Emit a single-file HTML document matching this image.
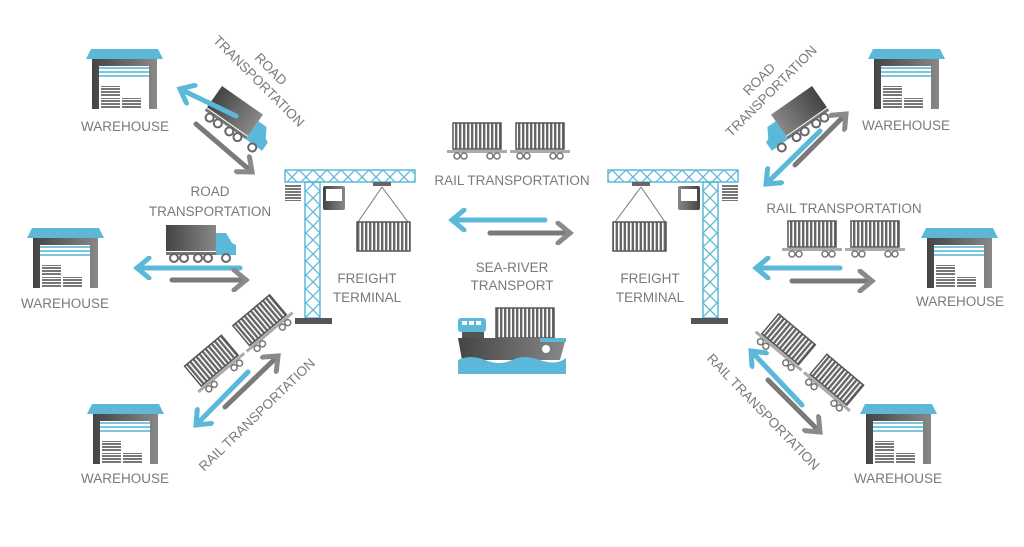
<!DOCTYPE html>
<html><head><meta charset="utf-8"><style>
html,body{margin:0;padding:0;background:#fff;width:1024px;height:547px;overflow:hidden}
svg{display:block}
text{font-family:"Liberation Sans",sans-serif;fill:#7a7a7a;font-size:13.5px}
</style></head><body>
<svg width="1024" height="547" viewBox="0 0 1024 547" xmlns="http://www.w3.org/2000/svg">
<defs>
<marker id="hb" markerUnits="userSpaceOnUse" markerWidth="24" markerHeight="24" viewBox="0 0 24 24" refX="18" refY="12" orient="auto"><path d="M6,2 L18,12 L6,22" fill="none" stroke="#5bb8d8" stroke-width="5" stroke-linecap="round"/></marker>
<marker id="hg" markerUnits="userSpaceOnUse" markerWidth="24" markerHeight="24" viewBox="0 0 24 24" refX="18" refY="12" orient="auto"><path d="M6,2 L18,12 L6,22" fill="none" stroke="#8a8a8a" stroke-width="5" stroke-linecap="round"/></marker>
<linearGradient id="dg" x1="0" x2="1"><stop offset="0" stop-color="#444"/><stop offset="1" stop-color="#888"/></linearGradient>
<pattern id="ribs" width="4" height="4" patternUnits="userSpaceOnUse"><rect width="4" height="4" fill="#fff"/><rect width="2.4" height="4" fill="#666"/></pattern>
<pattern id="hrib" width="4" height="3" patternUnits="userSpaceOnUse"><rect width="4" height="3" fill="#fff"/><rect width="4" height="2" fill="#777"/></pattern>
<g id="wh">
<polygon points="0,10 5,0 72,0 77,10" fill="#5bb8d8"/>
<rect x="6" y="10" width="65" height="50" fill="url(#dg)"/>
<rect x="13" y="17" width="50" height="43" fill="#fff"/>
<rect x="13" y="18" width="50" height="2" fill="#7cc6e0"/>
<rect x="13" y="22" width="50" height="2" fill="#7cc6e0"/>
<rect x="13" y="26" width="50" height="2" fill="#7cc6e0"/>
<rect x="15" y="37" width="19" height="10" fill="url(#hrib)"/>
<rect x="15" y="49" width="19" height="10" fill="url(#hrib)"/>
<rect x="36" y="49" width="19" height="10" fill="url(#hrib)"/>
</g>
<g id="rc">
<rect x="6" y="0" width="48" height="26" fill="url(#ribs)" stroke="#555" stroke-width="1.5"/>
<rect x="0" y="27" width="60" height="3" fill="#aaa"/>
<circle cx="10" cy="33" r="3" fill="#fff" stroke="#777" stroke-width="1.5"/><circle cx="17" cy="33" r="3" fill="#fff" stroke="#777" stroke-width="1.5"/>
<circle cx="43" cy="33" r="3" fill="#fff" stroke="#777" stroke-width="1.5"/><circle cx="50" cy="33" r="3" fill="#fff" stroke="#777" stroke-width="1.5"/>
</g>
<g id="rail2"><use href="#rc"/><use href="#rc" x="63"/></g>
<g id="truck">
<rect x="0" y="0" width="50" height="26" fill="url(#dg)"/>
<path d="M50,8 L60,8 L66,18 L70,20 L70,30 L50,30 Z" fill="#5bb8d8"/>
<rect x="0" y="27" width="50" height="3" fill="#777"/>
<circle cx="8" cy="33" r="4" fill="#fff" stroke="#666" stroke-width="2"/><circle cx="18" cy="33" r="4" fill="#fff" stroke="#666" stroke-width="2"/>
<circle cx="32" cy="33" r="4" fill="#fff" stroke="#666" stroke-width="2"/><circle cx="42" cy="33" r="4" fill="#fff" stroke="#666" stroke-width="2"/>
<circle cx="60" cy="33" r="4" fill="#fff" stroke="#666" stroke-width="2"/>
</g>
<pattern id="lat" width="14" height="14" patternUnits="userSpaceOnUse"><path d="M0,0 L14,14 M14,0 L0,14" stroke="#5bb8d8" stroke-width="1.3"/></pattern>
<g id="crane">
<rect x="0" y="0" width="130" height="12" fill="url(#lat)" stroke="#5bb8d8" stroke-width="1.5"/>
<rect x="20" y="12" width="15" height="136" fill="url(#lat)" stroke="#5bb8d8" stroke-width="1.5"/>
<rect x="10" y="148" width="37" height="6" fill="#555"/>
<rect x="0" y="15" width="16" height="16" fill="url(#hrib)"/>
<rect x="38" y="16" width="22" height="24" fill="url(#dg)" rx="2"/><rect x="41" y="19" width="16" height="12" fill="#fff"/>
<rect x="88" y="12" width="18" height="4" fill="#666"/>
<path d="M97,17 L73,52 M97,17 L123,52" stroke="#777" stroke-width="1"/>
<rect x="72" y="52" width="53" height="29" fill="url(#ribs)" stroke="#555" stroke-width="1.5"/>
</g>
</defs>

<use href="#wh" x="86" y="49"/><text x="125" y="131" text-anchor="middle">WAREHOUSE</text>
<use href="#wh" x="27" y="228"/><text x="65" y="308" text-anchor="middle">WAREHOUSE</text>
<use href="#wh" x="87" y="404"/><text x="125" y="483" text-anchor="middle">WAREHOUSE</text>
<use href="#wh" x="868" y="49"/><text x="906" y="130" text-anchor="middle">WAREHOUSE</text>
<use href="#wh" x="921" y="228"/><text x="960" y="306" text-anchor="middle">WAREHOUSE</text>
<use href="#wh" x="860" y="404"/><text x="898" y="483" text-anchor="middle">WAREHOUSE</text>

<use href="#crane" x="285" y="170"/>
<text x="367" y="283" text-anchor="middle">FREIGHT</text><text x="367" y="302" text-anchor="middle">TERMINAL</text>
<g transform="translate(738,170) scale(-1,1)"><use href="#crane"/></g>
<text x="650" y="283" text-anchor="middle">FREIGHT</text><text x="650" y="302" text-anchor="middle">TERMINAL</text>

<use href="#rail2" x="447" y="123"/>
<text x="512" y="185" text-anchor="middle">RAIL TRANSPORTATION</text>
<line x1="545" y1="220" x2="452" y2="220" stroke="#5bb8d8" stroke-width="5" stroke-linecap="round" marker-end="url(#hb)"/>
<line x1="490" y1="233" x2="570" y2="233" stroke="#7a7a7a" stroke-width="5" stroke-linecap="round" marker-end="url(#hg)"/>
<text x="512" y="272" text-anchor="middle">SEA-RIVER</text><text x="512" y="290" text-anchor="middle">TRANSPORT</text>
<rect x="496" y="308" width="58" height="30" fill="url(#ribs)" stroke="#555" stroke-width="1.5"/>
<rect x="458" y="318" width="28" height="14" rx="3" fill="#5bb8d8"/>
<rect x="462" y="321" width="5" height="4" fill="#fff"/><rect x="469" y="321" width="5" height="4" fill="#fff"/><rect x="476" y="321" width="5" height="4" fill="#fff"/>
<rect x="462" y="332" width="22" height="6" fill="#555"/>
<path d="M458,338 L566,338 L560,360 L462,360 Z" fill="url(#dg)"/>
<rect x="540" y="338" width="26" height="4" fill="#5bb8d8"/>
<circle cx="546" cy="349" r="4" fill="#fff"/>
<path d="M458,360 Q470,354 485,360 T512,360 T540,360 T566,358 L566,374 L458,374 Z" fill="#5bb8d8"/>

<g transform="translate(222,86) rotate(35)"><use href="#truck"/></g>
<text transform="translate(262,78) rotate(45)" text-anchor="middle"><tspan x="0" y="-8">ROAD</tspan><tspan x="0" y="9">TRANSPORTATION</tspan></text>
<line x1="236" y1="116" x2="180" y2="89" stroke="#5bb8d8" stroke-width="5" stroke-linecap="round" marker-end="url(#hb)"/>
<line x1="196" y1="124" x2="252" y2="172" stroke="#7a7a7a" stroke-width="5" stroke-linecap="round" marker-end="url(#hg)"/>

<text x="210" y="196" text-anchor="middle">ROAD</text><text x="210" y="216" text-anchor="middle">TRANSPORTATION</text>
<use href="#truck" x="166" y="225"/>
<line x1="240" y1="268" x2="137" y2="268" stroke="#5bb8d8" stroke-width="5" stroke-linecap="round" marker-end="url(#hb)"/>
<line x1="172" y1="280" x2="246" y2="280" stroke="#7a7a7a" stroke-width="5" stroke-linecap="round" marker-end="url(#hg)"/>

<g transform="translate(180,370) rotate(-40)"><use href="#rail2"/></g>
<line x1="225" y1="407" x2="278" y2="356" stroke="#7a7a7a" stroke-width="5" stroke-linecap="round" marker-end="url(#hg)"/>
<line x1="248" y1="372" x2="196" y2="425" stroke="#5bb8d8" stroke-width="5" stroke-linecap="round" marker-end="url(#hb)"/>
<text transform="translate(260,418) rotate(-44)" text-anchor="middle">RAIL TRANSPORTATION</text>

<g transform="translate(812,86) scale(-1,1) rotate(35)"><use href="#truck"/></g>
<text transform="translate(768,88) rotate(-45)" text-anchor="middle"><tspan x="0" y="-8">ROAD</tspan><tspan x="0" y="9">TRANSPORTATION</tspan></text>
<line x1="795" y1="165" x2="846" y2="114" stroke="#7a7a7a" stroke-width="5" stroke-linecap="round" marker-end="url(#hg)"/>
<line x1="820" y1="131" x2="766" y2="184" stroke="#5bb8d8" stroke-width="5" stroke-linecap="round" marker-end="url(#hb)"/>

<text x="844" y="213" text-anchor="middle">RAIL TRANSPORTATION</text>
<use href="#rail2" x="782" y="221"/>
<line x1="840" y1="268" x2="756" y2="268" stroke="#5bb8d8" stroke-width="5" stroke-linecap="round" marker-end="url(#hb)"/>
<line x1="792" y1="281" x2="872" y2="281" stroke="#7a7a7a" stroke-width="5" stroke-linecap="round" marker-end="url(#hg)"/>

<g transform="translate(774,310) rotate(40)"><use href="#rail2"/></g>
<line x1="802" y1="405" x2="751" y2="351" stroke="#5bb8d8" stroke-width="5" stroke-linecap="round" marker-end="url(#hb)"/>
<line x1="768" y1="380" x2="820" y2="432" stroke="#7a7a7a" stroke-width="5" stroke-linecap="round" marker-end="url(#hg)"/>
<text transform="translate(760,415) rotate(46)" text-anchor="middle">RAIL TRANSPORTATION</text>
</svg>
</body></html>
